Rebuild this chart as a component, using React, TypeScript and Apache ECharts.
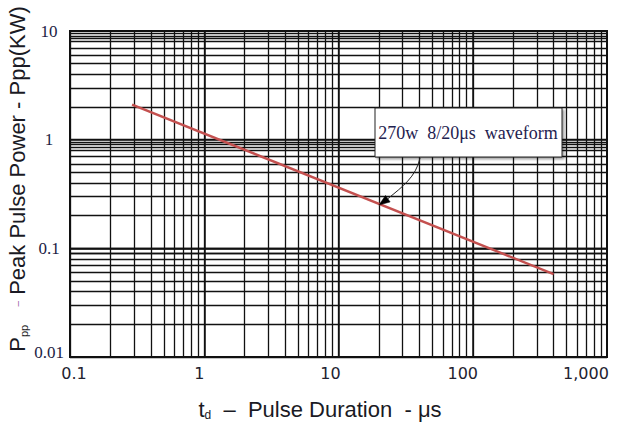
import React, { useEffect, useRef } from "react";
import * as echarts from "echarts";

// ---- data ----
const xTickValues = [0.1, 1, 10, 100, 1000];
const xTickLabels = ["0.1", "1", "10", "100", "1,000"];
const yTickValues = [0.01, 0.1, 1, 10];
const yTickLabels = ["0.01", "0.1", "1", "10"];
const xDecades = [0.1, 1, 10, 100];
const yDecades = [0.01, 0.1, 1];
const xGridMantissas = [1, 2, 3, 4, 5, 6, 7, 8, 9];
const yGridMantissas = [1, 2, 3, 4, 5, 6, 7, 8, 8.5, 9, 9.5];
const pulseDuration = [0.29, 400]; // μs
const peakPower = [2.1, 0.058]; // kW
const annotationText = "270w  8/20μs  waveform";
const annotationAnchor = [20, 0.25];

const sans = "'Liberation Sans', Arial, sans-serif";
const serif = "'Liberation Serif', 'Times New Roman', serif";
const verdana = "'DejaVu Sans', Verdana, sans-serif";

const xShift = [
  [0, 0, 0, 8],
  [0, 10, 0, 0],
  [0, 16, 0, 0],
  [0, 20, 0, 0],
  [0, 42, 0, 0],
];
const yShift = [
  [0, 0, 10, 0],
  [0, 0, 0, 0],
  [0, 0, 0, 0],
  [0, 0, 0, 0],
];

function idxOf(values: number[], v: number) {
  return values.findIndex((t) => Math.abs(Math.log10(t) - Math.log10(v)) < 1e-6);
}

export default function App() {
  const ref = useRef<HTMLDivElement>(null);
  useEffect(() => {
    const el = ref.current!;
    const chart = echarts.init(el, undefined, { renderer: "svg" });

    const xRich: any = {};
    xTickLabels.forEach((_, i) => {
      xRich["x" + i] = {
        fontFamily: verdana,
        fontSize: 16,
        color: "#222230",
        padding: xShift[i],
      };
    });
    const yRich: any = {};
    yTickLabels.forEach((_, i) => {
      yRich["y" + i] = {
        fontFamily: serif,
        fontSize: 17,
        color: "#1c1c44",
        padding: yShift[i],
      };
    });

    const vLines = xDecades.flatMap((d) =>
      xGridMantissas.map((m) => ({ xAxis: +(d * m).toPrecision(6) }))
    );
    const hLines = yDecades.flatMap((d) =>
      yGridMantissas.map((m) => ({ yAxis: +(d * m).toPrecision(6) }))
    );
    const lineData = pulseDuration.map((t, i) => [t, peakPower[i]]);

    chart.setOption({
      animation: false,
      backgroundColor: "#ffffff",
      grid: {
        left: 70,
        right: 12,
        top: 31,
        bottom: 71,
        show: true,
        borderColor: "#111",
        borderWidth: 2,
        backgroundColor: "#fff",
      },
      xAxis: {
        type: "log",
        logBase: 10,
        min: 0.1,
        max: 1000,
        splitNumber: 4,
        axisLine: { show: true, lineStyle: { color: "#111", width: 2 } },
        axisTick: { show: false },
        minorTick: { show: false },
        splitLine: { show: true, lineStyle: { color: "#111", width: 1.5 } },
        axisLabel: {
          show: true,
          interval: 0,
          showMinLabel: true,
          showMaxLabel: true,
          margin: 8,
          formatter: (v: number) => {
            const i = idxOf(xTickValues, v);
            return i >= 0 ? `{x${i}|${xTickLabels[i]}}` : "";
          },
          rich: xRich,
        },
      },
      yAxis: {
        type: "log",
        logBase: 10,
        min: 0.01,
        max: 10,
        splitNumber: 3,
        axisLine: { show: true, lineStyle: { color: "#111", width: 2 } },
        axisTick: { show: false },
        minorTick: { show: false },
        splitLine: { show: true, lineStyle: { color: "#111", width: 1.5 } },
        axisLabel: {
          show: true,
          interval: 0,
          showMinLabel: true,
          showMaxLabel: true,
          align: "center",
          margin: 21,
          formatter: (v: number) => {
            const i = idxOf(yTickValues, v);
            return i >= 0 ? `{y${i}|${yTickLabels[i]}}` : "";
          },
          rich: yRich,
        },
      },
      series: [
        {
          type: "line",
          data: lineData,
          symbol: "none",
          silent: true,
          lineStyle: { opacity: 0, width: 0 },
          z: 1,
          markLine: {
            silent: true,
            animation: false,
            symbol: ["none", "none"],
            label: { show: false },
            emphasis: { disabled: true },
            lineStyle: { color: "#111", width: 1.3, type: "solid" },
            data: [...vLines, ...hLines],
          },
        },
        {
          type: "line",
          data: lineData,
          symbol: "none",
          silent: true,
          lineStyle: { color: "#c4504f", width: 2.5 },
          z: 5,
        },
      ],
    });

    const tip = chart.convertToPixel({ gridIndex: 0 }, annotationAnchor) as number[];
    const tx = tip[0];
    const ty = tip[1];
    const dx = -0.81;
    const dy = 0.58;
    const bx = tx - dx * 11;
    const by = ty - dy * 11;
    const px = -dy;
    const py = dx;

    chart.setOption({
      graphic: [
        {
          type: "text",
          x: 17,
          y: 179,
          rotation: Math.PI / 2,
          style: {
            text: "{m|P}{s|pp}{m|   }{d|–}{m| Peak Pulse Power - Ppp(KW)}",
            align: "center",
            verticalAlign: "middle",
            rich: {
              m: { fontFamily: sans, fontSize: 22, fill: "#1a1a24", lineHeight: 24 },
              s: { fontFamily: sans, fontSize: 11, fill: "#1a1a24", verticalAlign: "bottom", lineHeight: 14 },
              d: { fontFamily: sans, fontSize: 10, fill: "#9a5aa8", verticalAlign: "middle" },
            },
          },
        },
        {
          type: "text",
          x: 320,
          y: 409,
          style: {
            text: "{m|t}{s|d}{m|  –  Pulse Duration  - μs}",
            align: "center",
            verticalAlign: "middle",
            rich: {
              m: { fontFamily: sans, fontSize: 22, fill: "#1a1a24", lineHeight: 24 },
              s: { fontFamily: sans, fontSize: 12, fill: "#1a1a24", verticalAlign: "bottom", lineHeight: 14 },
            },
          },
        },
        {
          type: "rect",
          z: 50,
          shape: { x: 375, y: 108, width: 187, height: 49 },
          style: {
            fill: "#fff",
            stroke: "#222",
            lineWidth: 1,
            shadowBlur: 2,
            shadowOffsetX: 2,
            shadowOffsetY: 2,
            shadowColor: "rgba(0,0,0,0.35)",
          },
        },
        {
          type: "text",
          z: 51,
          x: 468,
          y: 132.5,
          style: {
            text: annotationText,
            align: "center",
            verticalAlign: "middle",
            fontFamily: serif,
            fontSize: 18,
            fill: "#1f2250",
          },
        },
        {
          type: "bezierCurve",
          z: 51,
          shape: {
            x1: 420,
            y1: 158,
            cpx1: 416,
            cpy1: 177,
            cpx2: 402,
            cpy2: 187,
            x2: bx,
            y2: by,
          },
          style: { stroke: "#222", lineWidth: 1, fill: null },
        },
        {
          type: "polygon",
          z: 51,
          shape: {
            points: [
              [tx, ty],
              [bx + px * 4, by + py * 4],
              [bx - px * 4, by - py * 4],
            ],
          },
          style: { fill: "#000", stroke: "#000", lineWidth: 0.5 },
        },
      ],
    });

    return () => chart.dispose();
  }, []);
  return (
    <div
      ref={ref}
      style={{ position: "fixed", left: 0, top: 0, width: 619, height: 428, background: "#fff" }}
    />
  );
}
